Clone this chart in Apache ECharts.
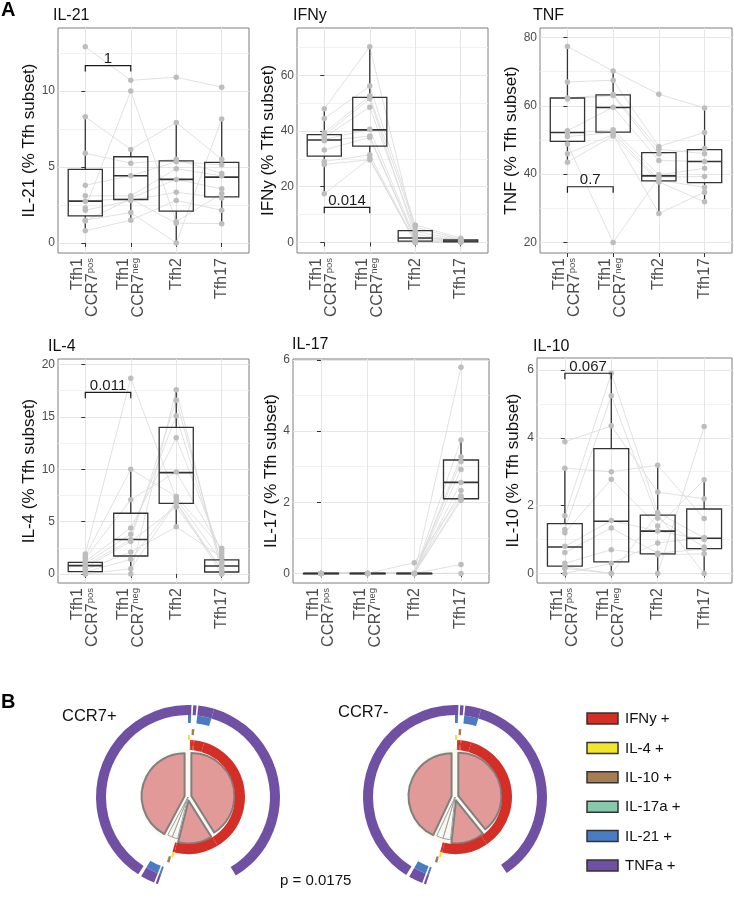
<!DOCTYPE html>
<html>
<head>
<meta charset="utf-8">
<title>Tfh subset cytokines</title>
<script src="https://cdn.jsdelivr.net/npm/echarts@6/dist/echarts.min.js"></script>
<style>
  html, body { margin: 0; padding: 0; background: #fff; }
  #chart { width: 734px; height: 900px; }
</style>
</head>
<body>
<div id="chart"></div>
<script>
// ---------- data ----------
const SUBSETS = ['Tfh1 CCR7pos', 'Tfh1 CCR7neg', 'Tfh2', 'Tfh17'];
const SUBSET_POS = [0, 1, 2, 3];

// one row per donor: [CCR7pos, CCR7neg, Tfh2, Tfh17]
const IL21_DONORS = [
  [12.9, 10.7, 10.9, 10.25], [8.3, 6.15, 7.93, 5.5], [2.3, 10.0, 1.4, 3.25],
  [5.9, 5.25, 5.5, 4.57], [3.8, 4.42, 5.35, 5.14], [3.1, 3.1, 4.88, 4.42],
  [2.75, 2.95, 4.18, 3.56], [2.15, 2.8, 3.34, 2.95], [1.5, 2.0, 0, 8.15],
  [0.8, 1.5, 2.8, 2.15], [1.45, 2.9, 1.3, 1.27],
];
const IFNY_DONORS = [
  [48.0, 70.3, 3.0, 0.5], [44.5, 56.2, 6.3, 1.5], [39.4, 52.6, 5.5, 1.0],
  [38.5, 51.6, 2.0, 0.3], [37.8, 48.5, 4.0, 0.8], [37.0, 40.6, 1.5, 1.2],
  [36.5, 38.2, 1.0, 0.6], [33.2, 37.7, 0.5, 0.4], [29.1, 31.4, 0.2, 0.2],
  [28.0, 29.7, 0, 0.1], [17.5, 30.2, 0, 0],
];
const TNF_DONORS = [
  [77.4, 70.2, 63.4, 59.4], [67.0, 67.5, 48.1, 52.2], [62.3, 63.3, 47.3, 46.0],
  [62.0, 63.0, 45.9, 47.5], [52.7, 59.6, 44.0, 43.7], [52.0, 53.0, 39.8, 41.7],
  [51.0, 52.2, 38.3, 36.1], [48.8, 20.0, 39.1, 39.3], [46.0, 51.6, 28.5, 34.7],
  [43.5, 51.2, 37.7, 31.9],
];
const IL4_DONORS = [
  [1.9, 18.7, 7.2, 1.2], [1.7, 10.0, 7.4, 2.45], [1.5, 7.1, 9.75, 2.2],
  [1.2, 4.4, 13.0, 1.9], [1.0, 3.8, 15.1, 1.0], [0.8, 3.3, 16.6, 0.8],
  [0.6, 3.1, 6.4, 0.5], [0.4, 2.1, 4.5, 1.6], [0.2, 1.4, 6.9, 0.3],
  [0, 0, 17.6, 0.1], [0, 0.5, 6.8, 0],
];
const IL17_DONORS = [
  [0, 0, 0, 5.8], [0, 0, 0.3, 2.18], [0, 0, 0, 3.75], [0, 0, 0, 3.28],
  [0, 0, 0, 3.15], [0, 0, 0, 2.92], [0, 0, 0, 2.56], [0, 0, 0, 2.33],
  [0, 0, 0, 2.12], [0, 0, 0, 2.05], [0, 0, 0, 0.25], [0, 0, 0, 0],
];
const IL10_DONORS = [
  [3.88, 4.35, 2.4, 2.2], [3.1, 3.0, 3.19, 1.62], [1.7, 5.9, 1.8, 1.05],
  [1.3, 5.24, 1.63, 0.78], [1.2, 2.78, 1.4, 2.76], [0.8, 1.56, 1.25, 1.0],
  [0.62, 1.34, 0.6, 0.72], [0.3, 0.7, 0.55, 0.58], [0.2, 0, 0, 4.33],
  [0.15, 0, 1.75, 0], [0, 0.3, 0.9, 1.05],
];

// box stats per subset: [lower whisker, q1, median, q3, upper whisker]
const IL21_BOXES = [[0.8, 1.78, 2.75, 4.84, 8.3], [1.5, 2.86, 4.42, 5.67, 6.15], [0, 2.09, 4.18, 5.4, 7.93], [1.27, 3.03, 4.33, 5.3, 8.15]];
const IFNY_BOXES = [[17.5, 31.0, 36.8, 38.7, 48.0], [29.8, 34.6, 40.4, 52.1, 70.3], [0, 0.5, 1.6, 4.2, 6.5], [0, 0.2, 0.5, 0.9, 1.5]];
const TNF_BOXES = [[43.5, 49.6, 52.2, 62.3, 77.4], [51.5, 52.3, 59.5, 63.2, 70.2], [28.5, 38.0, 39.5, 46.3, 48.1], [31.9, 37.5, 43.7, 47.2, 59.4]];
const IL4_BOXES = [[0, 0.22, 0.8, 1.1, 1.97], [0, 1.72, 3.3, 5.8, 10.0], [4.46, 6.75, 9.68, 14.0, 17.6], [0, 0.19, 0.76, 1.34, 2.45]];
const IL17_BOXES = [[0, 0, 0, 0, 0], [0, 0, 0, 0, 0], [0, 0, 0, 0, 0], [2.05, 2.1, 2.56, 3.19, 3.75]];
const IL10_BOXES = [[0, 0.22, 0.78, 1.47, 3.1], [0, 0.34, 1.54, 3.68, 5.9], [0, 0.58, 1.25, 1.72, 3.19], [0, 0.73, 1.04, 1.9, 2.76]];

// comparison brackets: [from subset, to subset, height, p label]
const IL21_BRACKET = [0, 1, 11.67, '1'];
const IFNY_BRACKET = [0, 1, 12.6, '0.014'];
const TNF_BRACKET = [0, 1, 36.3, '0.7'];
const IL4_BRACKET = [0, 1, 17.35, '0.011'];
const IL10_BRACKET = [0, 1, 5.9, '0.067'];

// y ranges and tick labels
const IL21_RANGE = [-0.66, 14.14], IL21_TICKS = [0, 5, 10], IL21_MINOR = [2.5, 7.5, 12.5];
const IFNY_RANGE = [-3.8, 77], IFNY_TICKS = [0, 20, 40, 60], IFNY_MINOR = [10, 30, 50, 70];
const TNF_RANGE = [16.9, 82.8], TNF_TICKS = [20, 40, 60, 80], TNF_MINOR = [30, 50, 70];
const IL4_RANGE = [-0.86, 20.53], IL4_TICKS = [0, 5, 10, 15, 20], IL4_MINOR = [2.5, 7.5, 12.5, 17.5];
const IL17_RANGE = [-0.27, 6.03], IL17_TICKS = [0, 2, 4, 6], IL17_MINOR = [1, 3, 5];
const IL10_RANGE = [-0.28, 6.35], IL10_TICKS = [0, 2, 4, 6], IL10_MINOR = [1, 3, 5];

// SPICE: cytokine combinations (% of cells), clockwise from 12 o'clock
const CYTOKINES = ['IFNy', 'IL-4', 'IL-10', 'IL-17a', 'IL-21', 'TNFa'];
const LEGEND_NAMES = ['IFNy +', 'IL-4 +', 'IL-10 +', 'IL-17a +', 'IL-21 +', 'TNFa +'];
const SLICE_TAGS = [
  ['IL-4', 'IL-21', 'TNFa'], ['IFNy'], ['IFNy', 'IL-10', 'TNFa'], ['IFNy'],
  ['IFNy', 'IL-21', 'TNFa'], ['IFNy', 'TNFa'], ['IFNy'], ['IFNy', 'IL-4'],
  ['IL-10'], [], ['IL-21', 'TNFa'], [], ['IL-21', 'TNFa'], [], ['TNFa'],
];
const CCR7POS_SLICES = [0.6, 0.3, 0.6, 0.3, 2.8, 36.7, 12.5, 0.6, 0.6, 0.3, 0.4, 0.3, 2.5, 0.6, 40.9];
const CCR7NEG_SLICES = [0.6, 0.3, 0.6, 0.3, 2.8, 35.9, 13.1, 0.6, 0.6, 0.3, 0.4, 0.3, 2.5, 0.6, 41.1];
// pie wedges
const PIE_KIND = ['big', 'big', 'small', 'small', 'big'];
const CCR7POS_PIE = [41.1, 12.8, 2.1, 1.8, 42.2];
const CCR7NEG_PIE = [39.2, 12.5, 2.8, 2.5, 43.0];
const P_VALUE = 'p = 0.0175';

// ---------- styling ----------
const FONT = '"Liberation Sans", Arial, Helvetica, sans-serif';
const BOX_WIDTH = 0.75;
const RING_COLORS = ['#d32f27', '#f3e52b', '#a67c52', '#87c9aa', '#4a7cc3', '#6f50a3'];
const RING_RADII = [[47, 57], [57, 62], [62, 68], [68, 74], [74, 82], [82, 92]];

const PANELS = [
  { title: 'IL-21', name: 'IL-21 (% Tfh subset)', donors: IL21_DONORS, boxes: IL21_BOXES, bracket: IL21_BRACKET,
    range: IL21_RANGE, ticks: IL21_TICKS, minor: IL21_MINOR, grid: { left: 58, top: 28, width: 191, height: 225 }, nameGap: 16, titleAt: [53, 16] },
  { title: 'IFNy', name: 'IFNy (% Tfh subset)', donors: IFNY_DONORS, boxes: IFNY_BOXES, bracket: IFNY_BRACKET,
    range: IFNY_RANGE, ticks: IFNY_TICKS, minor: IFNY_MINOR, grid: { left: 297, top: 28, width: 191, height: 225 }, nameGap: 20, titleAt: [293, 16] },
  { title: 'TNF', name: 'TNF (% Tfh subset)', donors: TNF_DONORS, boxes: TNF_BOXES, bracket: TNF_BRACKET,
    range: TNF_RANGE, ticks: TNF_TICKS, minor: TNF_MINOR, grid: { left: 540, top: 28, width: 192, height: 225 }, nameGap: 20, titleAt: [533, 16] },
  { title: 'IL-4', name: 'IL-4 (% Tfh subset)', donors: IL4_DONORS, boxes: IL4_BOXES, bracket: IL4_BRACKET,
    range: IL4_RANGE, ticks: IL4_TICKS, minor: IL4_MINOR, grid: { left: 58, top: 359, width: 191, height: 224 }, nameGap: 16, titleAt: [48, 347] },
  { title: 'IL-17', name: 'IL-17 (% Tfh subset)', donors: IL17_DONORS, boxes: IL17_BOXES, bracket: null,
    range: IL17_RANGE, ticks: IL17_TICKS, minor: IL17_MINOR, grid: { left: 293, top: 359, width: 196, height: 224 }, nameGap: 13, titleAt: [292, 345] },
  { title: 'IL-10', name: 'IL-10 (% Tfh subset)', donors: IL10_DONORS, boxes: IL10_BOXES, bracket: IL10_BRACKET,
    range: IL10_RANGE, ticks: IL10_TICKS, minor: IL10_MINOR, grid: { left: 537, top: 358, width: 195, height: 225 }, nameGap: 15, titleAt: [533, 347] },
];

function subsetLabel(value) {
  const parts = SUBSETS[value].split(' ');
  if (parts.length === 1) return '{n|' + parts[0] + '}';
  const sup = parts[1].slice(4);
  return '{n|' + parts[0] + '}\n{n|' + parts[1].slice(0, 4) + '}{s|' + sup + '}';
}

function renderBox(params, api) {
  const x = api.value(0);
  const lo = api.coord([x, api.value(1)]);
  const q1 = api.coord([x, api.value(2)]);
  const md = api.coord([x, api.value(3)]);
  const q3 = api.coord([x, api.value(4)]);
  const hi = api.coord([x, api.value(5)]);
  const half = api.size([BOX_WIDTH, 0])[0] / 2;
  const stroke = { stroke: '#333333', lineWidth: 1.3, fill: 'none' };
  return {
    type: 'group',
    children: [
      { type: 'line', shape: { x1: lo[0], y1: lo[1], x2: q1[0], y2: q1[1] }, style: stroke },
      { type: 'line', shape: { x1: q3[0], y1: q3[1], x2: hi[0], y2: hi[1] }, style: stroke },
      { type: 'rect', shape: { x: q1[0] - half, y: q3[1], width: half * 2, height: Math.max(q1[1] - q3[1], 0.5) }, style: stroke },
      { type: 'line', shape: { x1: md[0] - half, y1: md[1], x2: md[0] + half, y2: md[1] }, style: { stroke: '#333333', lineWidth: 1.6 } },
    ],
  };
}

function bracketRenderer(label) {
  return function (params, api) {
    const a = api.coord([api.value(0), api.value(2)]);
    const b = api.coord([api.value(1), api.value(2)]);
    return {
      type: 'group',
      children: [
        { type: 'polyline', shape: { points: [[a[0], a[1] + 6], a, b, [b[0], b[1] + 6]] },
          style: { stroke: '#1a1a1a', lineWidth: 1.2, fill: 'none' } },
        { type: 'text', x: (a[0] + b[0]) / 2, y: a[1] + 1,
          style: { text: label, font: '15px ' + FONT, fill: '#1a1a1a', align: 'center', verticalAlign: 'bottom' } },
      ],
    };
  };
}

const grids = [], xAxes = [], yAxes = [], series = [], graphics = [];

PANELS.forEach((p, i) => {
  grids.push({ ...p.grid, show: true, borderColor: '#7f7f7f', borderWidth: 1, outerBoundsMode: 'none', containLabel: false });

  xAxes.push({
    type: 'value', gridIndex: i, min: -0.6, max: 3.6,
    axisLine: { show: false },
    axisTick: { show: true, length: 4, customValues: SUBSET_POS, lineStyle: { color: '#333333' } },
    axisLabel: {
      customValues: SUBSET_POS, rotate: 90, margin: 5, color: '#4d4d4d',
      formatter: subsetLabel,
      rich: {
        n: { fontSize: 16, fontFamily: FONT, color: '#4d4d4d', lineHeight: 15 },
        s: { fontSize: 9.5, fontFamily: FONT, color: '#4d4d4d', lineHeight: 9, verticalAlign: 'top' },
      },
    },
    splitLine: { show: true, customValues: SUBSET_POS, lineStyle: { color: '#e6e6e6', width: 1 } },
  });

  yAxes.push({
    type: 'value', gridIndex: i, min: p.range[0], max: p.range[1],
    name: p.name, nameLocation: 'middle', nameGap: p.nameGap, nameRotate: 90,
    nameTextStyle: { fontSize: 17, fontFamily: FONT, color: '#111111' },
    axisLine: { show: false },
    axisTick: { show: true, length: 4, customValues: p.ticks, lineStyle: { color: '#333333' } },
    axisLabel: { customValues: p.ticks, fontSize: 12, fontFamily: FONT, color: '#4d4d4d', margin: 3 },
    splitLine: { show: true, customValues: p.ticks, lineStyle: { color: '#e6e6e6', width: 1 } },
  });
  yAxes.push({
    type: 'value', gridIndex: i, min: p.range[0], max: p.range[1], position: 'right',
    axisLine: { show: false },
    axisTick: { show: false, customValues: p.minor },
    axisLabel: { show: false, customValues: p.minor },
    splitLine: { show: true, customValues: p.minor, lineStyle: { color: '#efefef', width: 0.8 } },
  });

  const yIdx = i * 2;
  p.donors.forEach((d) => {
    series.push({
      type: 'line', xAxisIndex: i, yAxisIndex: yIdx, z: 1, silent: true,
      data: d.map((v, k) => [SUBSET_POS[k], v]),
      symbol: 'none', lineStyle: { color: '#d9d9d9', width: 0.8 },
    });
  });

  series.push({
    type: 'custom', xAxisIndex: i, yAxisIndex: yIdx, z: 2, silent: true,
    renderItem: renderBox,
    encode: { x: 0, y: [1, 2, 3, 4, 5] },
    data: p.boxes.map((b, k) => [SUBSET_POS[k], ...b]),
  });

  const pts = [];
  p.donors.forEach((d) => d.forEach((v, k) => { if (v != null) pts.push([SUBSET_POS[k], v]); }));
  series.push({
    type: 'scatter', xAxisIndex: i, yAxisIndex: yIdx, z: 3, silent: true,
    symbolSize: 5.5, itemStyle: { color: '#bdbdbd', opacity: 1 },
    data: pts,
  });

  if (p.bracket) {
    series.push({
      type: 'custom', xAxisIndex: i, yAxisIndex: yIdx, z: 4, silent: true,
      renderItem: bracketRenderer(p.bracket[3]),
      encode: { x: [0, 1], y: 2 },
      data: [p.bracket.slice(0, 3)],
    });
  }

  graphics.push({ type: 'text', x: p.titleAt[0], y: p.titleAt[1],
    style: { text: p.title, font: '16px ' + FONT, fill: '#111111', verticalAlign: 'middle' } });
});

// ---------- SPICE pies ----------
function spice(center, slices, groups) {
  series.push({
    type: 'pie', center, radius: [0, 48], silent: true, startAngle: 90, clockwise: true,
    label: { show: false }, labelLine: { show: false }, emphasis: { disabled: true },
    itemStyle: { color: '#f9f9ef', borderWidth: 0 },
    data: groups.map((v) => ({ value: v })),
  });
  series.push({
    type: 'pie', center, radius: [0, 43], startAngle: 90, clockwise: true,
    selectedMode: 'multiple', selectedOffset: 3.5,
    label: { show: false }, labelLine: { show: false }, emphasis: { disabled: true },
    select: { itemStyle: {} },
    data: groups.map((v, k) => ({
      value: v,
      selected: PIE_KIND[k] === 'big',
      itemStyle: PIE_KIND[k] === 'big'
        ? { color: '#e29a99', borderColor: '#808080', borderWidth: 2 }
        : { color: '#f9f9ef', borderColor: '#a0a0a0', borderWidth: 1 },
    })),
  });
  CYTOKINES.forEach((c, r) => {
    series.push({
      type: 'pie', center, radius: RING_RADII[r], silent: true, startAngle: 90, clockwise: true,
      label: { show: false }, labelLine: { show: false }, emphasis: { disabled: true },
      data: slices.map((v, k) => ({
        value: v,
        itemStyle: { color: SLICE_TAGS[k].includes(c) ? RING_COLORS[r] : 'rgba(0,0,0,0)', borderWidth: 0 },
      })),
    });
  });
}
spice([188, 797], CCR7POS_SLICES, CCR7POS_PIE);
spice([455, 797], CCR7NEG_SLICES, CCR7NEG_PIE);

// legend
LEGEND_NAMES.forEach((name, k) => {
  const y = 713 + k * 29.4;
  graphics.push({ type: 'rect', shape: { x: 587, y: y, width: 31, height: 11 },
    style: { fill: RING_COLORS[k], stroke: '#333333', lineWidth: 1.5 } });
  graphics.push({ type: 'text', x: 625, y: y + 6,
    style: { text: name, font: '15px ' + FONT, fill: '#111111', verticalAlign: 'middle' } });
});

graphics.push(
  { type: 'text', x: 1, y: 10, style: { text: 'A', font: 'bold 20px ' + FONT, fill: '#000', verticalAlign: 'middle' } },
  { type: 'text', x: 1, y: 702, style: { text: 'B', font: 'bold 20px ' + FONT, fill: '#000', verticalAlign: 'middle' } },
  { type: 'text', x: 62, y: 716, style: { text: 'CCR7+', font: '16.5px ' + FONT, fill: '#111111', verticalAlign: 'middle' } },
  { type: 'text', x: 338, y: 712, style: { text: 'CCR7-', font: '16.5px ' + FONT, fill: '#111111', verticalAlign: 'middle' } },
  { type: 'text', x: 280, y: 881, style: { text: P_VALUE, font: '15px ' + FONT, fill: '#111111', verticalAlign: 'middle' } },
);

const chart = echarts.init(document.getElementById('chart'), null, { renderer: 'canvas' });
chart.setOption({
  animation: false,
  backgroundColor: '#ffffff',
  textStyle: { fontFamily: FONT },
  grid: grids,
  xAxis: xAxes,
  yAxis: yAxes,
  series,
  graphic: { elements: graphics },
});
</script>
</body>
</html>
